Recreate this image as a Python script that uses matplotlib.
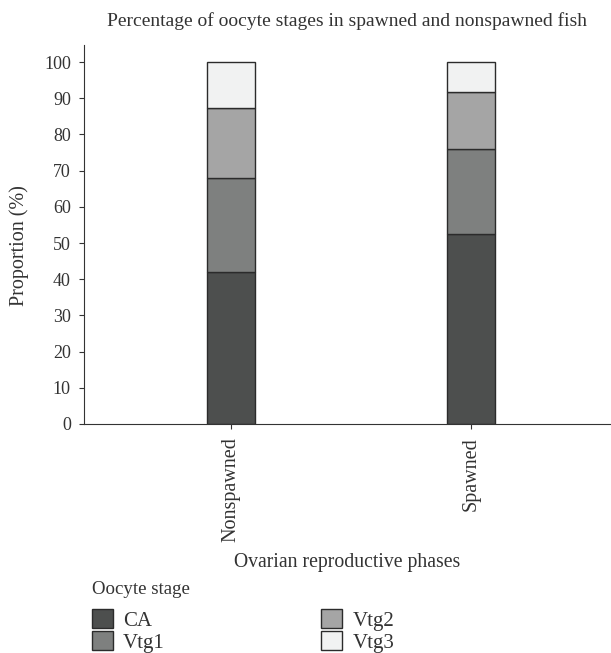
import matplotlib.pyplot as plt
from matplotlib.patches import Patch
import numpy as np

plt.rcParams['font.family'] = ['Liberation Serif', 'DejaVu Serif']
plt.rcParams['text.color'] = '#333333'
plt.rcParams['axes.labelcolor'] = '#333333'
plt.rcParams['xtick.color'] = '#333333'
plt.rcParams['ytick.color'] = '#333333'

# Percent of each oocyte stage per ovarian phase
phases = ['Nonspawned', 'Spawned']
stages = ['CA', 'Vtg1', 'Vtg2', 'Vtg3']
ca = [42.1, 52.4]
vtg1 = [26.0, 23.5]
vtg2 = [19.2, 15.7]
vtg3 = [12.7, 8.4]
colors = ['#4d4f4e', '#7e807f', '#a5a5a5', '#f1f2f2']

fig = plt.figure(figsize=(6.11, 6.53), dpi=100)
ax = fig.add_axes([0.1375, 0.3507, 0.8625, 0.5803])

x = np.arange(len(phases))
bottom = np.zeros(len(phases))
for vals, col in zip([ca, vtg1, vtg2, vtg3], colors):
    ax.bar(x, vals, width=0.2, bottom=bottom, color=col,
           edgecolor='#2b2b2b', linewidth=1.0)
    bottom += np.array(vals)

ax.set_xlim(-0.6125, 1.583)
ax.set_ylim(0, 104.7)
ax.set_yticks(range(0, 101, 10))
ax.set_xticks(x)
ax.set_xticklabels(phases, rotation=90, fontsize=14.5)
ax.tick_params(axis='y', labelsize=13)
ax.spines['top'].set_visible(False)
ax.spines['right'].set_visible(False)
for s in ['left', 'bottom']:
    ax.spines[s].set_color('#333333')
ax.tick_params(direction='out', length=3.5, pad=6)

ax.set_ylabel('Proportion (%)', fontsize=14.5)
ax.yaxis.set_label_coords(-0.105, 0.47)
ax.set_xlabel('Ovarian reproductive phases', fontsize=14.2)
ax.xaxis.set_label_coords(0.5, -0.341)
fig.text(0.5687, 1 - 21 / 653, 'Percentage of oocyte stages in spawned and nonspawned fish',
         ha='center', va='center', fontsize=14)

# legend: title as its own text so the gap above the swatches can be set
fig.text(92 / 611, 1 - 590 / 653, 'Oocyte stage', ha='left', va='center', fontsize=13.6)
handles = [Patch(facecolor=c, edgecolor='#2b2b2b', linewidth=1.0) for c in colors]
leg = fig.legend(handles, stages, ncol=2, loc='upper left',
                 bbox_to_anchor=(92 / 611, 1 - 609 / 653), frameon=False,
                 fontsize=15, borderaxespad=0,
                 handlelength=1.0, handleheight=1.06, labelspacing=0.0,
                 handletextpad=0.5, columnspacing=7.5, borderpad=0)

fig.savefig('out.png', dpi=100)
